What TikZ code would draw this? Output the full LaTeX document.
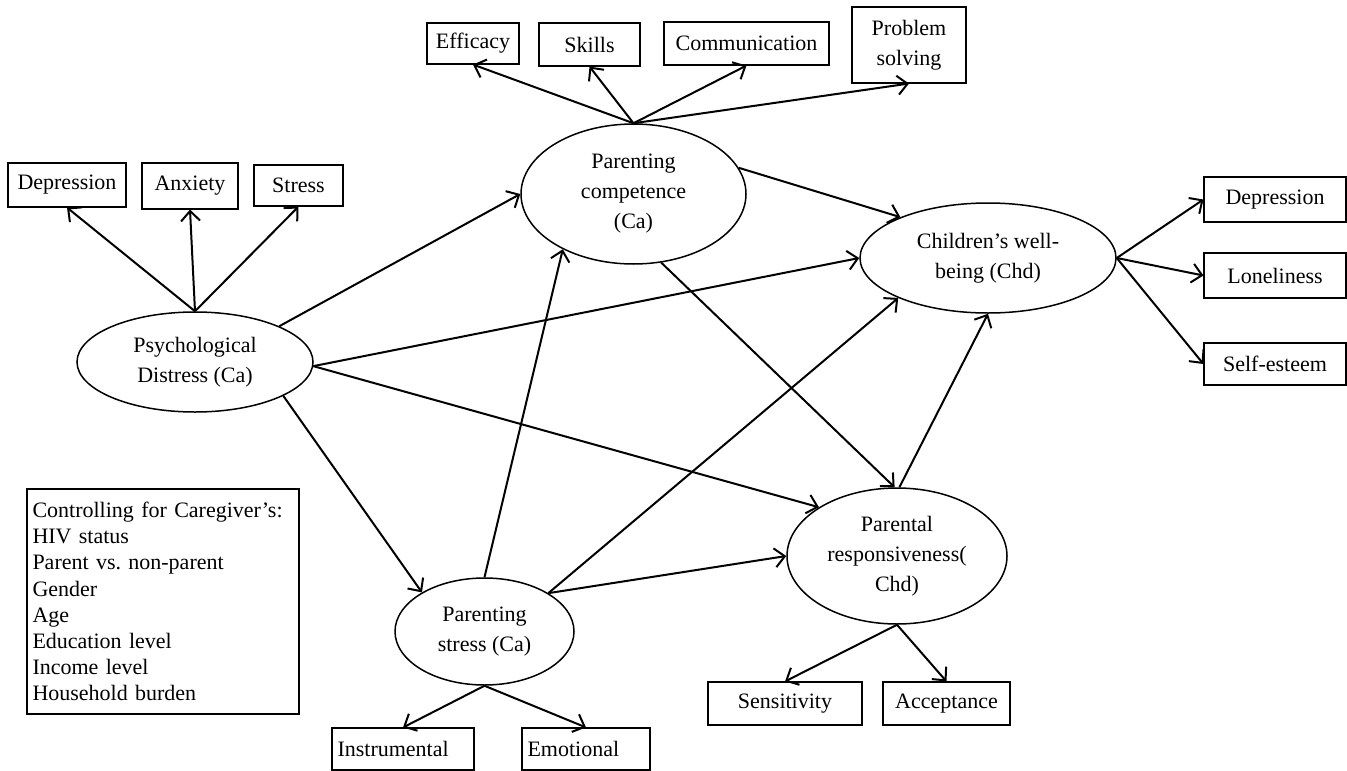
\documentclass[tikz,border=0pt]{standalone}
\usepackage{fontspec}
\setmainfont{Liberation Serif}
\usetikzlibrary{arrows.meta,shapes.geometric}
\begin{document}
\frenchspacing
\begin{tikzpicture}[x=1pt,y=-1pt,
  box/.style={draw,line width=1.1pt,inner sep=0pt,align=center,font=\fontsize{22}{30}\selectfont},
  lat/.style={draw,ellipse,line width=1.5pt,inner sep=0pt,align=center,font=\fontsize{22}{30}\selectfont},
  arr/.style={line width=2pt,-{Straight Barb[length=10pt,width=19pt,line width=2pt]}}]
\useasboundingbox (0,0) rectangle (1347,771);
% latent variables
\node[lat,minimum width=236pt,minimum height=100pt] (pd) at (195,362) {Psychological\\Distress (Ca)};
\node[lat,minimum width=225pt,minimum height=140pt] (pc) at (633.5,194) {Parenting\\competence\\(Ca)};
\node[lat,minimum width=256pt,minimum height=110pt] (cw) at (988,258) {Children’s well-\\being (Chd)};
\node[lat,minimum width=179pt,minimum height=107pt] (ps) at (484.5,631.5) {Parenting\\stress (Ca)};
\node[lat,minimum width=220pt,minimum height=136pt] (pr) at (897,556) {Parental\\responsiveness(\\Chd)};
% indicator boxes
\node[box,minimum width=92pt,minimum height=41pt] (eff) at (473,43.5) {Efficacy};
\node[box,minimum width=101pt,minimum height=43pt] (skl) at (589.5,44.5) {Skills};
\node[box,minimum width=165pt,minimum height=43pt] (com) at (746.5,43.5) {Communication};
\node[box,minimum width=114pt,minimum height=76pt] (prb) at (909,45) {Problem\\solving};
\node[box,minimum width=118pt,minimum height=44pt] (dep1) at (67,185) {Depression};
\node[box,minimum width=96pt,minimum height=46pt] (anx) at (190,186) {Anxiety};
\node[box,minimum width=89pt,minimum height=41pt] (str) at (298.5,185.5) {Stress};
\node[box,minimum width=142pt,minimum height=45pt] (dep2) at (1275,199.5) {Depression};
\node[box,minimum width=142pt,minimum height=45pt] (lon) at (1275,275.5) {Loneliness};
\node[box,minimum width=142pt,minimum height=42pt] (se) at (1275,364) {Self-esteem};
\node[box,text width=131pt,inner xsep=5.5pt,align=left,minimum height=42pt] (inst) at (403,749) {Instrumental};
\node[box,text width=117pt,inner xsep=5.5pt,align=left,minimum height=42pt] (emo) at (586,749) {Emotional};
\node[box,minimum width=154pt,minimum height=43pt] (sens) at (785,703.5) {Sensitivity};
\node[box,minimum width=127pt,minimum height=43pt] (acc) at (946.5,703.5) {Acceptance};
\node[box,text width=261pt,inner xsep=5.5pt,align=left,minimum height=225pt,font=\fontsize{22}{26.2}\selectfont] (ctrl) at (163,601.5) {Controlling for Caregiver’s:\\HIV status\\Parent vs. non-parent\\Gender\\Age\\Education level\\Income level\\Household burden};
% measurement arrows
\draw[arr] (pc.north) -- (eff.south);
\draw[arr] (pc.north) -- (skl.south);
\draw[arr] (pc.north) -- (com.south);
\draw[arr] (pc.north) -- (prb.south);
\draw[arr] (pd.north) -- (dep1.south);
\draw[arr] (pd.north) -- (anx.south);
\draw[arr] (pd.north) -- (str.south);
\draw[arr] (cw.east) -- (dep2.west);
\draw[arr] (cw.east) -- (lon.west);
\draw[arr] (cw.east) -- (se.west);
\draw[arr] (ps.south) -- (inst.north);
\draw[arr] (ps.south) -- (emo.north);
\draw[arr] (pr.south) -- (sens.north);
\draw[arr] (pr.south) -- (acc.north);
% structural arrows
\draw[arr] (pd.23) -- (pc.west);
\draw[arr] (pc.14) -- (cw.155);
\draw[arr] (pd.-2) -- (cw.west);
\draw[arr] (pd.-2) -- (pr.148);
\draw[arr] (pd.-21) -- (ps.148);
\draw[arr] (ps.north) -- (pc.-142);
\draw[arr] (pc.-68) -- (pr.92);
\draw[arr] (ps.31) -- (cw.-156);
\draw[arr] (ps.31) -- (pr.west);
\draw[arr] (pr.88) -- (cw.south);
\end{tikzpicture}
\end{document}
